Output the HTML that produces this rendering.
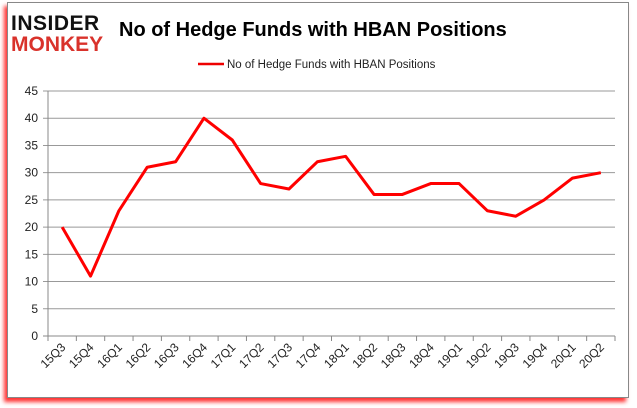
<!DOCTYPE html>
<html><head><meta charset="utf-8"><style>
body{margin:0;background:#fff;width:637px;height:408px;overflow:hidden;font-family:"Liberation Sans",sans-serif}
#frame{position:absolute;left:7px;top:2px;width:620px;height:394px;border:1px solid #888;background:#fff;box-shadow:-3px 4px 4px #f33}
</style></head><body>
<div id="frame"></div>
<svg id="c" width="637" height="408" style="position:absolute;left:0;top:0">
<g font-family="Liberation Sans,sans-serif" font-weight="bold">
<text x="11" y="30" font-size="21" fill="#111" letter-spacing="0.5">INSIDER</text>
<text x="11" y="51" font-size="21" fill="#d9322b">MONKEY</text>
</g>
<text x="119" y="36" font-size="20" font-weight="bold" fill="#000">No of Hedge Funds with HBAN Positions</text>
<line x1="198" y1="64" x2="224" y2="64" stroke="#e00" stroke-width="2.5"/>
<text x="227" y="68" font-size="11.5" fill="#222">No of Hedge Funds with HBAN Positions</text>
<g id="grid"></g><g id="axes"></g><g id="series"></g>
</svg>
<script>
const categories=["15Q3","15Q4","16Q1","16Q2","16Q3","16Q4","17Q1","17Q2","17Q3","17Q4","18Q1","18Q2","18Q3","18Q4","19Q1","19Q2","19Q3","19Q4","20Q1","20Q2"];
const values=[20,11,23,31,32,40,36,28,27,32,33,26,26,28,28,23,22,25,29,30];
const yTicks=[0,5,10,15,20,25,30,35,40,45];
const NS="http://www.w3.org/2000/svg";
const x0=48,x1=615,yTop=91,yBot=336,yMax=45;
const step=(x1-x0)/categories.length;
const X=i=>x0+step*(i+0.5);
const Y=v=>yBot-(v/yMax)*(yBot-yTop);
function mk(t,a,p){const e=document.createElementNS(NS,t);for(const k in a)e.setAttribute(k,a[k]);p.appendChild(e);return e;}
const grid=document.getElementById('grid'),axes=document.getElementById('axes'),ser=document.getElementById('series');
yTicks.forEach(v=>{
 const l=mk('line',{x1:x0-5,x2:x1,y1:Y(v),y2:Y(v),stroke:v===0?'#888':'#999','stroke-width':1},grid);
 
 
 const t=mk('text',{x:x0-10,y:Y(v)+4,'text-anchor':'end','font-size':12,fill:'#222'},axes);
 t.textContent=v;
 
 
});
const ya=mk('line',{x1:x0,x2:x0,y1:yTop,y2:yBot,stroke:'#888'},axes);


for(let i=0;i<=categories.length;i++){
 const tk=mk('line',{x1:x0+step*i,x2:x0+step*i,y1:yBot,y2:yBot+5,stroke:'#888'},axes);
 
 
}
categories.forEach((c,i)=>{
 const x=X(i)+4,y=yBot+12;
 const t=mk('text',{x:x,y:y,'text-anchor':'end','font-size':12,fill:'#222',transform:`rotate(-45 ${x} ${y})`},axes);
 t.textContent=c;
 
 
});
const p=mk('polyline',{points:values.map((v,i)=>X(i)+','+Y(v)).join(' '),fill:'none',stroke:'#f00','stroke-width':3,'stroke-linejoin':'round'},ser);


</script>
</body></html>
